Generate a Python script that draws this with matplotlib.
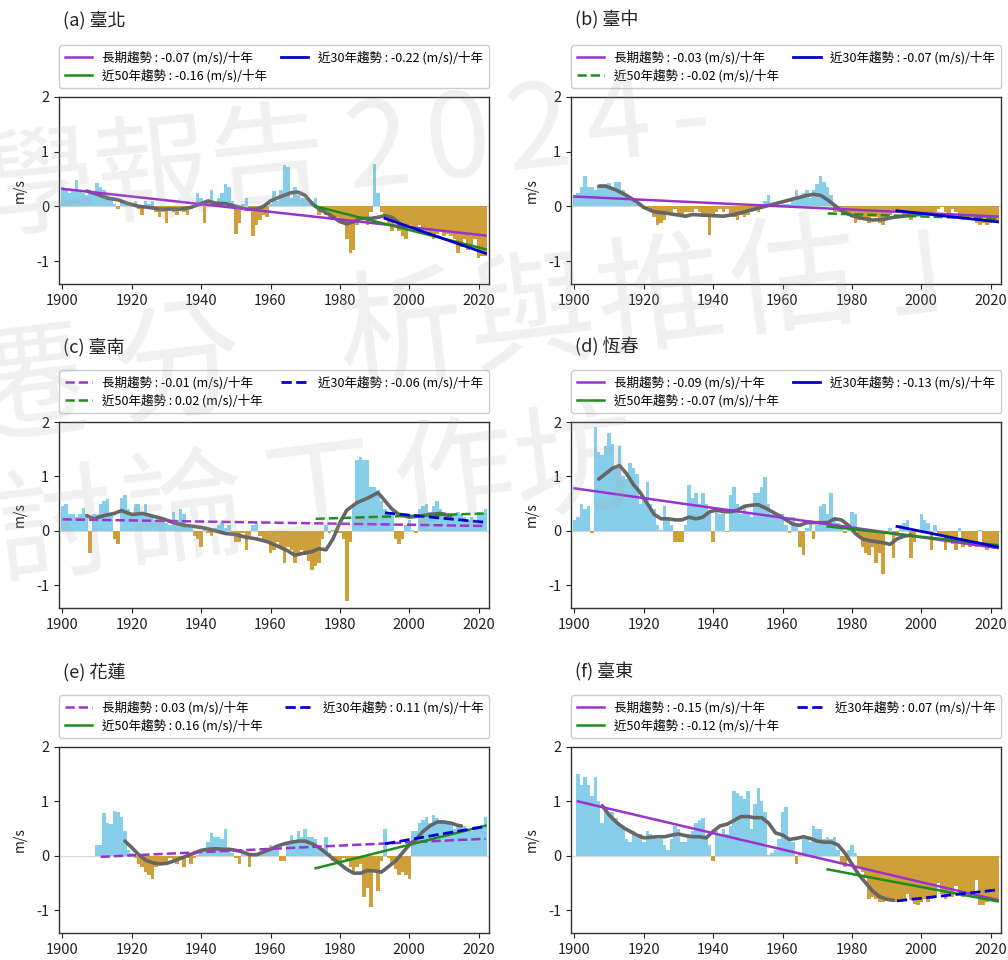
import numpy as np
import matplotlib
matplotlib.use("Agg")
import matplotlib.pyplot as plt

plt.rcParams['font.family'] = ['Noto Sans CJK TC', 'DejaVu Sans']
plt.rcParams['axes.unicode_minus'] = False

years = np.arange(1900, 2023)

stations = ['臺北', '臺中', '臺南', '恆春', '花蓮', '臺東']
tags = ['(a)', '(b)', '(c)', '(d)', '(e)', '(f)']

# annual wind-speed anomalies (m/s), 1900-2022; None = no record
taipei = [
    0.35, 0.30, 0.25, 0.30, 0.48, 0.30, 0.25, 0.20, 0.25, 0.20,
    0.43, 0.35, 0.30, 0.20, 0.15, 0.05, -0.05, 0.10, 0.05, 0.02,
    0.05, 0.10, -0.05, -0.15, 0.10, 0.05, 0.10, -0.10, -0.20, -0.10,
    -0.30, -0.05, -0.10, -0.15, -0.05, -0.10, -0.15, -0.05, 0.05, 0.25,
    0.15, -0.30, 0.10, 0.30, 0.05, 0.15, 0.25, 0.40, 0.35, 0.10,
    -0.50, -0.30, 0.05, 0.15, -0.05, -0.55, -0.35, -0.25, -0.15, -0.20,
    0.05, 0.28, 0.10, 0.30, 0.75, 0.72, 0.15, 0.35, 0.20, 0.15,
    0.15, 0.10, 0.10, 0.15, -0.15, -0.10, -0.15, -0.20, -0.25, -0.20,
    -0.25, -0.30, -0.60, -0.85, -0.80, -0.35, -0.20, -0.25, -0.35, -0.10,
    0.77, 0.25, -0.10, -0.20, -0.35, -0.45, -0.30, -0.45, -0.55, -0.60,
    -0.35, -0.40, -0.45, -0.35, -0.40, -0.45, -0.50, -0.60, -0.50, -0.45,
    -0.55, -0.50, -0.55, -0.60, -0.85, -0.75, -0.60, -0.80, -0.70, -0.60,
    -0.95, -0.90, -0.90]

taichung = [
    0.20, 0.25, 0.35, 0.55, 0.35, 0.35, 0.30, 0.35, 0.40, 0.40,
    0.42, 0.35, 0.45, 0.45, 0.30, 0.20, 0.15, 0.10, 0.05, 0.05,
    -0.05, -0.05, -0.10, -0.20, -0.35, -0.30, -0.25, -0.15, -0.10, -0.05,
    -0.15, -0.20, -0.10, -0.10, -0.10, -0.05, -0.10, -0.20, -0.15, -0.52,
    -0.15, -0.10, -0.05, -0.10, -0.05, -0.15, -0.20, -0.25, -0.15, -0.20,
    -0.15, -0.10, -0.05, -0.10, 0.05, 0.10, 0.20, 0.05, -0.02, 0.02,
    0.05, 0.05, 0.05, 0.10, 0.30, 0.15, 0.25, 0.30, 0.15, 0.30,
    0.40, 0.55, 0.45, 0.35, 0.20, -0.10, -0.10, -0.05, -0.10, -0.15,
    -0.20, -0.30, -0.25, -0.20, -0.25, -0.30, -0.20, -0.20, -0.30, -0.35,
    -0.20, -0.15, -0.10, -0.10, -0.10, -0.15, -0.20, -0.25, -0.15, -0.10,
    -0.10, -0.15, -0.10, -0.15, -0.10, -0.05, -0.02, -0.10, -0.15, -0.05,
    -0.10, -0.20, -0.25, -0.20, -0.25, -0.20, -0.30, -0.35, -0.30, -0.35,
    -0.30, -0.25, -0.30]

tainan = [
    0.45, 0.50, 0.30, 0.30, 0.25, 0.30, 0.42, 0.30, -0.40, 0.30,
    0.30, 0.50, 0.55, 0.58, 0.30, -0.15, -0.25, 0.60, 0.65, 0.40,
    0.30, 0.50, 0.50, 0.35, 0.50, 0.30, 0.25, 0.20, 0.20, 0.20,
    0.15, 0.10, 0.35, 0.20, 0.40, 0.30, 0.10, 0.05, -0.10, -0.15,
    -0.30, 0.05, -0.05, -0.10, 0.05, 0.10, 0.15, 0.05, 0.10, -0.05,
    -0.20, -0.20, -0.05, -0.35, -0.10, 0.10, 0.15, -0.10, -0.15, -0.20,
    -0.40, -0.35, -0.20, -0.30, -0.60, -0.30, -0.35, -0.60, -0.40, -0.35,
    -0.45, -0.55, -0.72, -0.65, -0.60, -0.15, 0.10, -0.05, 0.02, -0.05,
    -0.05, -0.15, -1.30, -0.20, 0.50, 1.30, 1.35, 1.30, 1.30, 0.80,
    0.80, 0.75, 0.55, 0.40, 0.35, 0.30, -0.15, -0.25, -0.15, 0.10,
    0.20, 0.02, -0.05, 0.40, 0.45, 0.50, 0.35, 0.45, 0.55, 0.40,
    0.35, 0.30, 0.25, 0.30, 0.35, 0.30, 0.25, 0.20, 0.25, 0.20,
    0.35, 0.30, 0.40]

hengchun = [
    0.20, 0.25, 0.50, 0.40, 0.45, -0.05, 1.90, 1.45, 1.40, 1.55,
    1.80, 1.60, 1.20, 1.55, 1.00, 0.95, 1.25, 1.15, 1.05, 0.50,
    0.60, 0.90, 0.50, 0.40, 0.10, 0.02, 0.45, 0.20, 0.10, -0.20,
    -0.20, -0.20, 0.10, 0.85, 0.60, 0.70, 0.50, 0.70, 0.50, 0.30,
    -0.20, 0.40, 0.30, 0.30, -0.02, 0.65, 0.80, 0.50, 0.30, 0.45,
    0.30, 0.25, 0.70, 0.70, 0.80, 0.98, 0.50, 0.30, 0.25, 0.30,
    0.30, 0.10, -0.05, 0.25, 0.10, -0.30, -0.45, 0.05, 0.20, -0.15,
    0.10, 0.45, 0.50, 0.30, 0.70, 0.20, 0.15, 0.10, -0.05, 0.05,
    0.35, 0.30, -0.10, -0.30, -0.40, -0.45, -0.30, -0.60, -0.40, -0.80,
    -0.05, 0.05, -0.50, -0.10, 0.10, 0.15, 0.20, -0.50, -0.20, 0.01,
    0.30, 0.20, 0.15, -0.35, 0.10, -0.10, -0.10, -0.35, -0.20, -0.25,
    -0.35, 0.05, -0.30, -0.20, -0.30, -0.25, -0.30, 0.02, -0.30, -0.35,
    -0.30, -0.30, -0.25]

hualien = [
    None, None, None, None, None, None, None, None, None, None,
    0.20, 0.20, 0.78, 0.60, 0.58, 0.82, 0.80, 0.72, 0.45, 0.10,
    0.05, -0.05, -0.15, -0.20, -0.30, -0.35, -0.42, -0.20, -0.15, -0.15,
    -0.15, -0.05, -0.10, -0.15, -0.05, -0.20, -0.05, -0.15, -0.05, 0.02,
    0.05, 0.10, 0.25, 0.42, 0.35, 0.35, 0.30, 0.50, 0.10, 0.05,
    -0.05, -0.15, 0.05, 0.05, -0.20, 0.05, 0.05, 0.05, 0.05, 0.10,
    0.20, 0.15, 0.10, -0.10, -0.10, 0.25, 0.38, 0.25, 0.45, 0.35,
    0.50, 0.35, 0.35, 0.30, 0.20, 0.15, 0.35, 0.05, -0.10, -0.10,
    -0.15, -0.05, -0.10, -0.20, -0.30, -0.20, -0.15, -0.75, -0.60, -0.95,
    -0.30, -0.65, -0.10, 0.50, -0.05, -0.15, -0.25, -0.35, -0.30, -0.35,
    -0.42, 0.45, 0.45, 0.60, 0.65, 0.72, 0.60, 0.75, 0.70, 0.65,
    0.65, 0.60, 0.60, 0.50, 0.55, 0.55, 0.55, 0.50, 0.45, 0.55,
    0.50, 0.55, 0.72]

taitung = [
    None, 1.50, 1.30, 1.45, 1.30, 1.10, 1.45, 1.00, 0.60, 0.90,
    0.80, 0.80, 0.70, 0.55, 0.50, 0.30, 0.25, 0.45, 0.35, 0.40,
    0.25, 0.45, 0.40, 0.35, 0.30, 0.30, 0.20, 0.10, 0.30, 0.55,
    0.50, 0.25, 0.25, 0.40, 0.45, 0.60, 0.65, 0.70, 0.35, 0.20,
    -0.10, 0.45, 0.40, 0.50, 0.40, 0.55, 1.20, 1.15, 1.10, 1.05,
    1.20, 0.50, 0.95, 1.25, 1.00, 0.80, 0.02, 0.05, 0.10, 0.30,
    0.80, 0.90, 0.30, 0.25, -0.15, 0.05, 0.30, 0.30, 0.25, 0.55,
    0.50, 0.50, 0.30, 0.35, 0.30, 0.35, 0.10, -0.15, -0.20, 0.10,
    0.20, 0.05, -0.20, -0.30, -0.40, -0.80, -0.75, -0.80, -0.85, -0.85,
    -0.80, -0.80, -0.85, -0.85, -0.80, -0.82, -0.70, -0.82, -0.88, -0.90,
    -0.85, -0.80, -0.85, -0.80, -0.75, -0.50, -0.70, -0.80, -0.70, -0.75,
    -0.55, -0.70, -0.75, -0.70, -0.75, -0.70, -0.45, -0.90, -0.90, -0.85,
    -0.80, -0.80, -0.85]

anomalies = [taipei, taichung, tainan, hengchun, hualien, taitung]

# low-pass filtered curves (year, m/s)
smooth_years = [
    [1907, 1910, 1913, 1916, 1919, 1922, 1925, 1928, 1931, 1934, 1937, 1940, 1942, 1944,
     1947, 1950, 1953, 1956, 1958, 1960, 1963, 1966, 1968, 1970, 1972, 1974, 1977, 1980,
     1982, 1984, 1986, 1989, 1991, 1993, 1995, 1997],
    [1907, 1909, 1912, 1915, 1918, 1920, 1923, 1926, 1929, 1932, 1934, 1937, 1940, 1943,
     1946, 1949, 1952, 1955, 1958, 1961, 1964, 1967, 1969, 1971, 1973, 1975, 1977, 1980,
     1983, 1986, 1989, 1992, 1995, 1998, 2000],
    [1907, 1909, 1912, 1915, 1917, 1920, 1923, 1926, 1929, 1932, 1935, 1938, 1941, 1944,
     1947, 1950, 1953, 1956, 1959, 1962, 1965, 1967, 1969, 1972, 1974, 1976, 1978, 1980,
     1982, 1985, 1988, 1991, 1993, 1995, 1997, 2000, 2003, 2006, 2009, 2012],
    [1907, 1909, 1911, 1913, 1915, 1917, 1919, 1921, 1923, 1925, 1927, 1929, 1931, 1933,
     1935, 1937, 1939, 1941, 1943, 1945, 1947, 1949, 1951, 1953, 1955, 1957, 1959, 1961,
     1963, 1965, 1967, 1969, 1971, 1973, 1975, 1977, 1979, 1981, 1983, 1985, 1987, 1989,
     1991, 1993, 1995, 1997],
    [1918, 1920, 1922, 1924, 1926, 1928, 1930, 1932, 1934, 1936, 1938, 1940, 1942, 1944,
     1946, 1948, 1950, 1952, 1954, 1956, 1958, 1960, 1962, 1964, 1966, 1968, 1970, 1972,
     1974, 1976, 1978, 1980, 1982, 1984, 1986, 1988, 1990, 1992, 1994, 1996, 1998, 2000,
     2002, 2004, 2006, 2008, 2010, 2012, 2014, 2015],
    [1908, 1910, 1912, 1914, 1916, 1918, 1920, 1922, 1924, 1926, 1928, 1930, 1932, 1934,
     1936, 1938, 1940, 1942, 1944, 1946, 1948, 1950, 1952, 1954, 1956, 1958, 1960, 1962,
     1964, 1966, 1968, 1970, 1972, 1974, 1976, 1978, 1980, 1982, 1984, 1986, 1988, 1990,
     1992],
]
smooth_vals = [
    [0.28, 0.22, 0.15, 0.12, 0.05, 0.00, -0.02, -0.05, -0.05, -0.05, -0.02, 0.05, 0.10, 0.06,
     0.05, 0.00, -0.05, -0.05, 0.00, 0.10, 0.18, 0.25, 0.26, 0.20, 0.05, -0.05, -0.15, -0.28,
     -0.32, -0.28, -0.22, -0.22, -0.20, -0.17, -0.20, -0.30],
    [0.37, 0.37, 0.30, 0.20, 0.08, -0.02, -0.10, -0.12, -0.15, -0.18, -0.15, -0.16, -0.17, -0.18,
     -0.15, -0.10, -0.05, 0.00, 0.05, 0.10, 0.15, 0.20, 0.22, 0.20, 0.12, 0.02, -0.08, -0.17,
     -0.22, -0.25, -0.24, -0.20, -0.18, -0.15, -0.15],
    [0.28, 0.22, 0.28, 0.32, 0.37, 0.30, 0.32, 0.27, 0.22, 0.15, 0.10, 0.08, 0.05, 0.00,
     -0.05, -0.07, -0.12, -0.15, -0.20, -0.28, -0.37, -0.45, -0.42, -0.38, -0.33, -0.35, -0.15, 0.15,
     0.38, 0.52, 0.60, 0.70, 0.55, 0.40, 0.30, 0.25, 0.27, 0.30, 0.32, 0.27],
    [0.95, 1.05, 1.15, 1.20, 1.05, 0.85, 0.70, 0.50, 0.30, 0.22, 0.22, 0.20, 0.20, 0.25,
     0.22, 0.25, 0.35, 0.38, 0.35, 0.35, 0.38, 0.45, 0.47, 0.48, 0.42, 0.35, 0.28, 0.20,
     0.12, 0.10, 0.15, 0.15, 0.15, 0.15, 0.22, 0.20, 0.10, -0.05, -0.15, -0.18, -0.20, -0.22,
     -0.25, -0.15, -0.10, -0.08],
    [0.27, 0.15, 0.02, -0.08, -0.13, -0.15, -0.14, -0.10, -0.05, 0.00, 0.05, 0.10, 0.12, 0.13,
     0.12, 0.12, 0.10, 0.07, 0.02, 0.02, 0.07, 0.12, 0.18, 0.22, 0.25, 0.27, 0.27, 0.22,
     0.15, 0.05, -0.05, -0.15, -0.25, -0.32, -0.32, -0.27, -0.28, -0.30, -0.20, -0.10, 0.05, 0.20,
     0.30, 0.45, 0.55, 0.62, 0.62, 0.60, 0.56, 0.55],
    [0.92, 0.75, 0.62, 0.52, 0.45, 0.38, 0.33, 0.34, 0.35, 0.35, 0.38, 0.40, 0.37, 0.35,
     0.35, 0.33, 0.45, 0.55, 0.58, 0.65, 0.72, 0.72, 0.70, 0.70, 0.60, 0.42, 0.38, 0.30,
     0.32, 0.35, 0.32, 0.27, 0.25, 0.25, 0.20, 0.05, -0.15, -0.35, -0.50, -0.65, -0.75, -0.80,
     -0.82],
]

# linear trends: slope in (m/s)/decade, start year and fitted value at that year
slope_long = [-0.07, -0.03, -0.01, -0.09, 0.03, -0.15]
slope_30 = [-0.22, -0.07, -0.06, -0.13, 0.11, 0.07]
slope_50 = [-0.16, -0.02, 0.02, -0.07, 0.16, -0.12]
long_start = [1900, 1900, 1900, 1900, 1911, 1901]
long_v0 = [0.32, 0.18, 0.21, 0.78, -0.02, 1.00]
v0_50 = [0.00, -0.13, 0.22, 0.08, -0.23, -0.25]
v0_30 = [-0.22, -0.08, 0.33, 0.08, 0.22, -0.83]
start_50, start_30, end_year = 1973, 1993, 2022

ls_long = ['-', '-', '--', '-', '--', '-']
ls_30 = ['-', '-', '--', '-', '--', '--']
ls_50 = ['-', '--', '--', '-', '-', '-']

POS = '#87CEEB'
NEG = '#CFA03A'
C_LONG = '#9A32CD'
C_30 = '#0000CD'
C_50 = '#1E8C1E'
C_SMOOTH = '#666666'

W, H = 1008, 960
fig = plt.figure(figsize=(W / 100, H / 100), dpi=100)

col_lr = [(59, 489), (571, 1001)]
row_tb = [(97, 284), (422, 608), (747, 933)]
title_y = [20, 347, 672]


def trend(x0, v0, slope):
    x = np.array([x0, end_year], dtype=float)
    return x, v0 + slope / 10.0 * (x - x0)


for i in range(6):
    r, c = divmod(i, 2)
    l, rr = col_lr[c]
    t, b = row_tb[r]
    ax = fig.add_axes([l / W, 1 - b / H, (rr - l) / W, (b - t) / H])

    vals = np.array([np.nan if v is None else v for v in anomalies[i]], dtype=float)
    m = ~np.isnan(vals)
    colors = np.where(vals[m] >= 0, POS, NEG)
    ax.axhline(0, color='#d8d8d8', lw=0.8, zorder=0.5)
    ax.bar(years[m], vals[m], width=1.0, color=colors, linewidth=0, zorder=1)

    ax.plot(smooth_years[i], smooth_vals[i], color=C_SMOOTH, lw=2.6,
            solid_capstyle='round', zorder=3)

    x, y = trend(long_start[i], long_v0[i], slope_long[i])
    h_long, = ax.plot(x, y, color=C_LONG, lw=1.8, ls=ls_long[i], zorder=4)
    x, y = trend(start_50, v0_50[i], slope_50[i])
    h_50, = ax.plot(x, y, color=C_50, lw=1.8, ls=ls_50[i], zorder=5)
    x, y = trend(start_30, v0_30[i], slope_30[i])
    h_30, = ax.plot(x, y, color=C_30, lw=2.0, ls=ls_30[i], zorder=6)

    ax.set_xlim(1899, 2023)
    ax.set_ylim(-1.42, 2.0)
    ax.set_xticks(range(1900, 2021, 20))
    ax.set_yticks([-1, 0, 1, 2])
    ax.tick_params(labelsize=10.5, length=3.5, width=0.8, colors='#222222')
    for s in ax.spines.values():
        s.set_linewidth(1.0)
        s.set_color('#333333')
    ax.set_ylabel('m/s', fontsize=10, labelpad=7, color='#222222')

    labels = [f'長期趨勢 : {slope_long[i]:.2f} (m/s)/十年',
              f'近50年趨勢 : {slope_50[i]:.2f} (m/s)/十年',
              f'近30年趨勢 : {slope_30[i]:.2f} (m/s)/十年']
    ax.legend([h_long, h_50, h_30], labels, loc='lower left',
              bbox_to_anchor=(0, 1 + 9 / (b - t), 1, 0.2), mode='expand',
              ncol=2, fontsize=9, borderaxespad=0, handlelength=2.2,
              labelspacing=0.35, borderpad=0.45, framealpha=1, edgecolor='#cccccc')

    ax.annotate(f'{tags[i]} {stations[i]}', xy=(0, 1), xycoords='axes fraction',
                xytext=(3, (t - title_y[r]) * 0.72), textcoords='offset points',
                va='center', ha='left', fontsize=13, color='#222222')

# faint watermark across the page, one glyph at a time (pixel centres)
wm_rows = [
    ('學報告2024-', [(38, 190), (152, 178), (268, 166), (378, 152), (458, 143),
                    (538, 134), (618, 126), (690, 122)], 84, 6),
    ('遷分析與推估」', [(22, 392), (178, 370), (402, 338), (532, 320), (662, 302),
                      (795, 284), (950, 262)], 92, 7),
    ('討論工作坊', [(55, 532), (185, 515), (320, 497), (455, 482), (575, 468)], 88, 7),
]
for chars, centres, size, rot in wm_rows:
    for ch, (px, py) in zip(chars, centres):
        fig.text(px / W, 1 - py / H, ch, fontsize=size, color='#a8a8a8', alpha=0.17,
                 ha='center', va='center', rotation=rot, rotation_mode='anchor',
                 zorder=20)

fig.savefig('out.png', dpi=100)
